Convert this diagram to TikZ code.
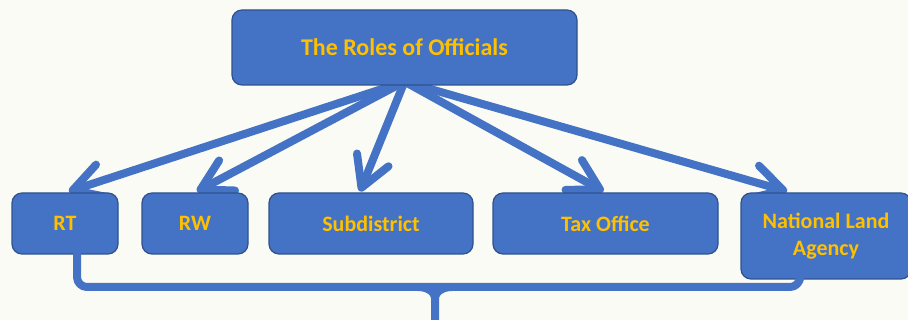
\documentclass[tikz,border=0pt]{standalone}
\usepackage{fontspec}
\setmainfont{Carlito}
\usetikzlibrary{arrows.meta}
\definecolor{boxblue}{RGB}{68,114,196}
\definecolor{edgeblue}{RGB}{47,82,143}
\definecolor{gold}{RGB}{255,192,0}
\definecolor{paper}{RGB}{250,251,244}
\pgfdeclarelayer{paper}
\pgfdeclarelayer{back}
\pgfsetlayers{paper,back,main}

\begin{document}
\begin{tikzpicture}[x=1pt,y=-1pt,>={Straight Barb[length=30pt,width=34pt,round]}]
\tikzstyle{unit}=[rectangle,rounded corners=10pt,draw=edgeblue,line width=1.2pt,fill=boxblue,text=gold,align=center,inner sep=0pt,minimum height=61pt,font=\bfseries\fontsize{22}{27}\selectfont]
\tikzstyle{link}=[boxblue,line width=8pt,line cap=round,line join=round]
  \begin{pgfonlayer}{paper}
  \fill[paper](0,0)rectangle(908,320);
  \end{pgfonlayer}
  \useasboundingbox(0,0)rectangle(908,320);
  \node(roles)at(404.5,47.5)[unit,minimum width=345pt,minimum height=75pt,font=\bfseries\fontsize{24}{28}\selectfont]{The Roles of Officials};
  \node(rt)at(65,223.5)[unit,minimum width=106pt]{RT};
  \node(rw)at(195,223.5)[unit,minimum width=106pt]{RW};
  \node(sub)at(371,223.5)[unit,minimum width=204pt]{Subdistrict};
  \node(tax)at(605.5,223.5)[unit,minimum width=225pt]{Tax Office};
  \node(bpn)at(826,236)[unit,minimum width=170pt,minimum height=86pt]{National Land\\Agency};
  \coordinate(hub)at([yshift=4]roles.south);
  \coordinate(brace)at(435,287);
  \coordinate(foot)at(435,325);
  % arrows sit behind the boxes
  \begin{pgfonlayer}{back}
  \draw[link,->](hub)--([xshift=4,yshift=1]rt.north);
  \draw[link,->](hub)--([xshift=2,yshift=1]rw.north);
  \draw[link,->](hub)--([xshift=-11,yshift=1]sub.north);
  \draw[link,->](hub)--([xshift=-2,yshift=1]tax.north);
  \draw[link,->](hub)--([xshift=-39,yshift=1]bpn.north);
  \end{pgfonlayer}
  % bracket under the boxes
  \draw[link,rounded corners=10pt]([xshift=12]rt.south)--(77,287)--(800,287)--([xshift=-26]bpn.south);
  \draw[link](418,287)to[out=0,in=90](435,299)--(foot);
  \draw[link](452,287)to[out=180,in=90](435,299);
\end{tikzpicture}
\end{document}
